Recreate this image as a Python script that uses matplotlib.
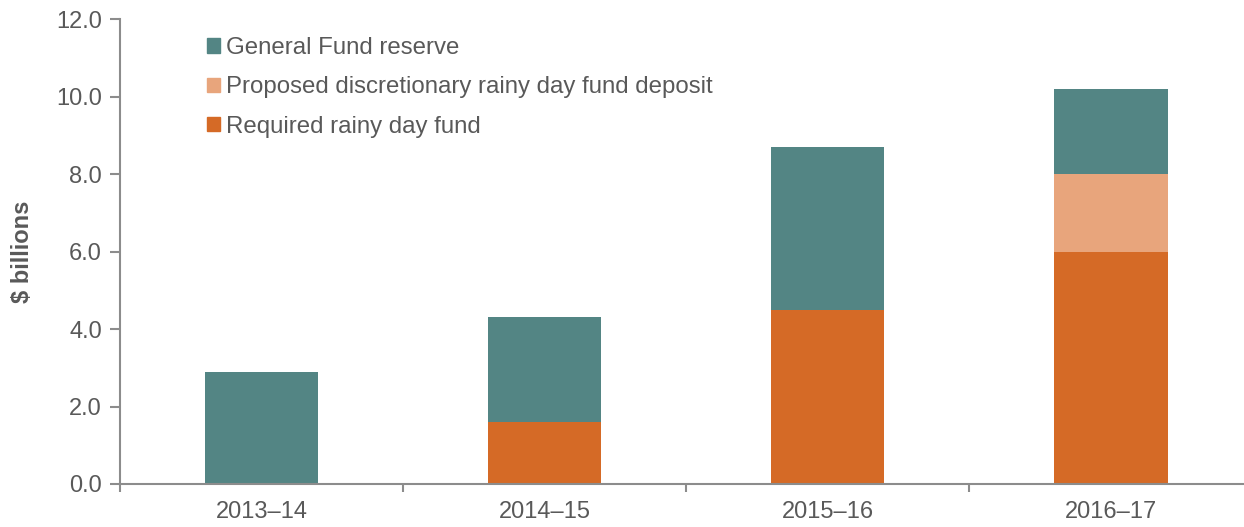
import matplotlib
matplotlib.use("Agg")
import matplotlib.pyplot as plt
from matplotlib.patches import Patch

categories = ["2013–14", "2014–15", "2015–16", "2016–17"]
required = [0.0, 1.6, 4.5, 6.0]
discretionary = [0.0, 0.0, 0.0, 2.0]
general_fund = [2.9, 2.7, 4.2, 2.2]

c_gf = "#538584"
c_disc = "#E8A57C"
c_req = "#D56A26"
gray = "#595959"
axis_gray = "#8C8C8C"

plt.rcParams['font.family'] = ['Liberation Sans', 'DejaVu Sans']

fig = plt.figure(figsize=(12.44, 5.27), dpi=100)
ax = fig.add_axes([120/1244, 1-484/527, 1-120/1244, (484-19)/527])

x = list(range(len(categories)))
w = 0.4
ax.bar(x, required, w, color=c_req, linewidth=0)
ax.bar(x, discretionary, w, bottom=required, color=c_disc, linewidth=0)
bottom2 = [a + b for a, b in zip(required, discretionary)]
ax.bar(x, general_fund, w, bottom=bottom2, color=c_gf, linewidth=0)

ax.set_ylim(0, 12)
ax.set_xlim(-0.5, 3.47)
ax.set_yticks([0, 2, 4, 6, 8, 10, 12])
ax.set_yticklabels([f"{v:.1f}" for v in [0, 2, 4, 6, 8, 10, 12]])
ax.set_xticks(x)
ax.set_xticklabels(categories)
ax.set_xticks([-0.5, 0.5, 1.5, 2.5], minor=True)
ax.tick_params(axis='x', which='major', length=0, labelsize=17, labelcolor=gray, pad=12)
ax.tick_params(axis='x', which='minor', length=6, color=axis_gray, width=1.5, direction='out')
ax.tick_params(axis='y', length=7, color=axis_gray, width=1.5, labelsize=17, labelcolor=gray, pad=6)

for s in ['top', 'right']:
    ax.spines[s].set_visible(False)
for s in ['left', 'bottom']:
    ax.spines[s].set_color(axis_gray)
    ax.spines[s].set_linewidth(1.5)

ax.set_ylabel("$ billions", fontsize=17, fontweight='bold', color=gray, labelpad=16)

handles = [Patch(color=c_gf), Patch(color=c_disc), Patch(color=c_req)]
labels = ["General Fund reserve", "Proposed discretionary rainy day fund deposit", "Required rainy day fund"]
leg = fig.legend(handles, labels, loc='upper left', bbox_to_anchor=(207/1244, 1-37/527),
                 frameon=False, fontsize=17.3, handlelength=0.55, handleheight=0.55,
                 handletextpad=0.25, labelspacing=0.72, borderpad=0, borderaxespad=0)
for t in leg.get_texts():
    t.set_color(gray)

fig.savefig("out.png", dpi=100)
